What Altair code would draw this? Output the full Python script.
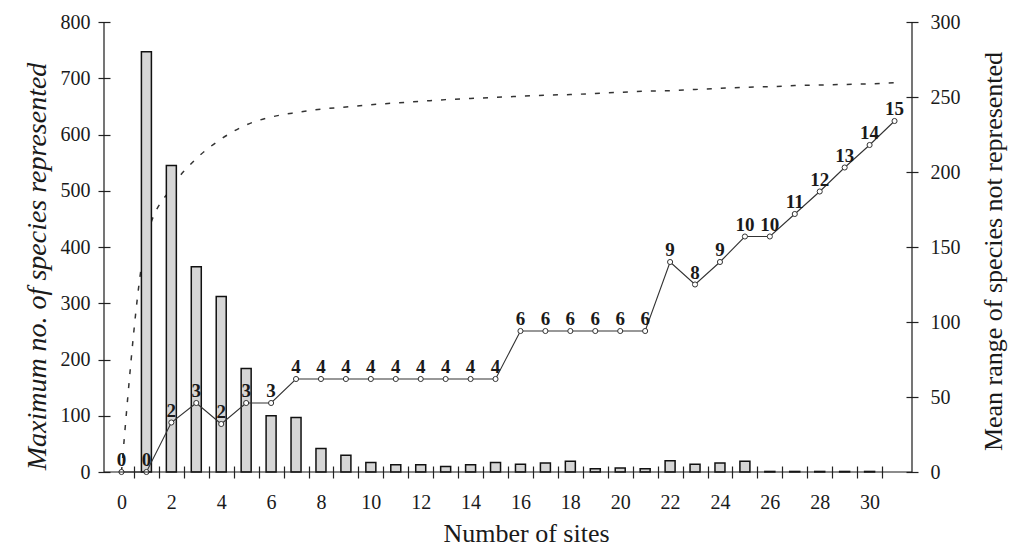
import altair as alt
import pandas as pd

# ---- data ----
sites = list(range(32))
max_species = [0, 415, 505, 557, 592, 617, 631, 639, 645, 649, 653, 656, 659, 662, 664, 666,
               668, 670, 671, 673, 675, 677, 678, 680, 682, 684, 685, 687, 688, 689, 690, 692]
bar_sites = list(range(1, 31))
bar_values = [747, 545, 365, 312, 184, 100, 97, 42, 30, 17, 13, 13, 10, 13, 17, 14, 16, 19,
              6, 7, 6, 20, 14, 16, 19, 1, 1, 1, 1, 1]
mean_range = [0, 0, 33, 46, 32, 46, 46, 62, 62, 62, 62, 62, 62, 62, 62, 62,
              94, 94, 94, 94, 94, 94, 140, 125, 140, 157, 157, 172, 187, 203, 218, 234]
n_labels = [0, 0, 2, 3, 2, 3, 3, 4, 4, 4, 4, 4, 4, 4, 4, 4,
            6, 6, 6, 6, 6, 6, 9, 8, 9, 10, 10, 11, 12, 13, 14, 15]
left_ticks = list(range(0, 801, 100))
right_ticks = list(range(0, 301, 50))
x_label_ticks = list(range(0, 31, 2))

W, H = 808, 450
FONT = "Liberation Serif"
INK = "#1a1a1a"

df_line = pd.DataFrame({"site": sites, "max_species": max_species,
                        "mean_range": mean_range, "label": n_labels})
df_bar = pd.DataFrame({"site": bar_sites, "max_species": bar_values})
df_one = pd.DataFrame({"a": [0]})

xscale = alt.Scale(domain=[-0.5, 31.5], nice=False, zero=False)
x_vals = sorted([i + 0.5 for i in range(31)] + x_label_ticks)
x_axis = alt.Axis(
    title="Number of sites", values=x_vals, grid=False, domain=False,
    labelExpr="datum.value % 1 === 0 ? '' + datum.value : ''",
    tickOpacity={"condition": {"test": "datum.value % 1 !== 0", "value": 1}, "value": 0},
    offset=-6, tickSize=12, labelPadding=14, titlePadding=8, titleX=W / 2 + 18,
    titleFontSize=26,
)

yl_scale = alt.Scale(domain=[0, 800], nice=False)
yl_axis = alt.Axis(title="Maximum no. of species represented", titleFontStyle="italic",
                   values=left_ticks, grid=False, domain=False, offset=-6, tickSize=12,
                   labelPadding=8, titlePadding=9, titleFontSize=28, titleY=H / 2 + 19)
yr_scale = alt.Scale(domain=[0, 300], nice=False)
yr_axis = alt.Axis(title="Mean range of species not represented", orient="right",
                   values=right_ticks, grid=False, domain=False, offset=-6, tickSize=12,
                   labelPadding=12, titlePadding=46, titleAngle=270, titleFontSize=26,
                   titleY=H / 2 + 4)

X = alt.X("site:Q", scale=xscale, axis=x_axis)

dashed = alt.Chart(df_line).mark_line(
    strokeDash=[5, 9], color="#333", strokeWidth=1.5, interpolate="monotone"
).encode(x=X, y=alt.Y("max_species:Q", scale=yl_scale, axis=yl_axis))

bars = alt.Chart(df_bar).mark_bar(
    size=10, fill="#d6d6d6", stroke="#111", strokeWidth=1.5
).encode(x=X, y=alt.Y("max_species:Q", scale=yl_scale, axis=yl_axis))

left = alt.layer(dashed, bars)

YR = alt.Y("mean_range:Q", scale=yr_scale, axis=yr_axis)
line = alt.Chart(df_line).mark_line(color="#333", strokeWidth=1.1).encode(x=X, y=YR)
pts = alt.Chart(df_line).mark_point(
    shape="circle", filled=True, fill="white", stroke="#333", strokeWidth=1, size=26, opacity=1
).encode(x=X, y=YR)
txt = alt.Chart(df_line).mark_text(
    font=FONT, fontSize=19, fontWeight="bold", color=INK, dy=-6, baseline="alphabetic"
).encode(x=X, y=YR, text="label:Q")

right = alt.layer(line, pts, txt)

dom_left = alt.Chart(df_one).mark_rule(color=INK, strokeWidth=1.2).encode(
    x=alt.value(0), y=alt.value(0), y2=alt.value(H))
dom_right = alt.Chart(df_one).mark_rule(color=INK, strokeWidth=1.2).encode(
    x=alt.value(W), y=alt.value(0), y2=alt.value(H))
dom_bottom = alt.Chart(df_one).mark_rule(color=INK, strokeWidth=1.2).encode(
    x=alt.value(0), x2=alt.value(W), y=alt.value(H))

chart = alt.layer(left, right, dom_left, dom_right, dom_bottom).resolve_scale(
    y="independent"
).properties(
    width=W, height=H,
    padding={"left": 96, "top": 14, "right": 96, "bottom": 76},
    autosize=alt.AutoSizeParams(type="none"),
    background="white",
).configure_view(stroke=None).configure_axis(
    labelFont=FONT, titleFont=FONT, labelFontSize=20,
    titleFontWeight="normal", labelColor=INK, titleColor=INK, tickColor="#222",
    tickWidth=1.2,
)

chart.save("out.html", embed_options={"renderer": "svg", "actions": False})
